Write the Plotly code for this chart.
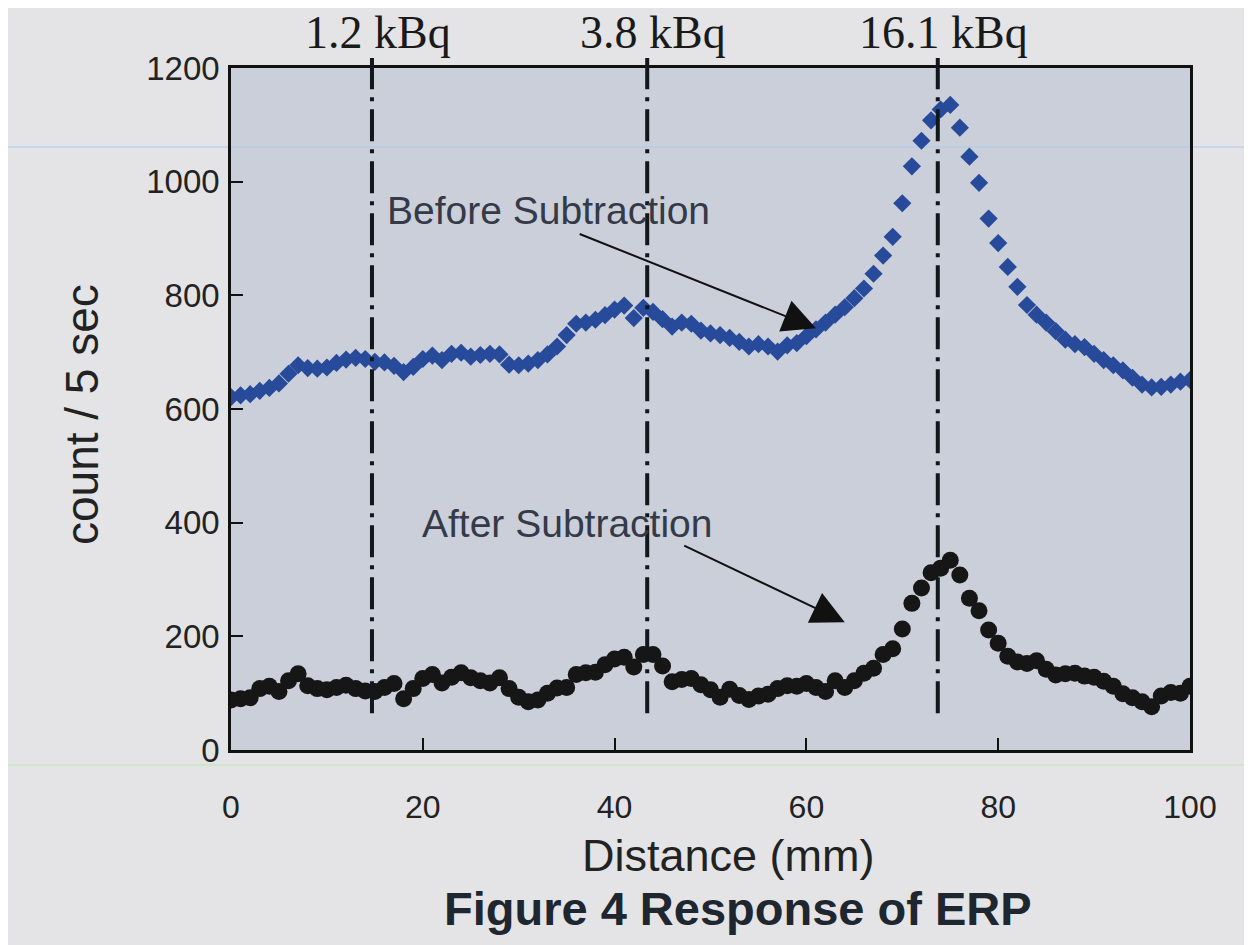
import plotly.graph_objects as go

# ---------------- data ----------------
distance_mm = list(range(0, 101))

before_subtraction = [
    621, 624, 626, 632, 637, 645, 662, 677, 672, 671,
    673, 681, 687, 690, 688, 683, 682, 676, 665, 674,
    688, 694, 686, 697, 699, 692, 695, 697, 696, 678,
    677, 680, 686, 696, 710, 730, 750, 752, 757, 765,
    775, 782, 760, 778, 771, 758, 745, 752, 750, 738,
    733, 730, 725, 718, 710, 714, 710, 701, 712, 716,
    728, 740, 752, 766, 779, 795, 812, 838, 870, 903,
    962, 1027, 1072, 1108, 1127, 1135, 1095, 1044, 998, 935,
    892, 850, 815, 783, 766, 752, 737, 722, 714, 709,
    697, 686, 677, 668, 655, 643, 638, 639, 643, 648,
    651,
]

after_subtraction = [
    88, 90, 92, 108, 112, 103, 122, 134, 113, 108,
    106, 110, 114, 108, 104, 103, 110, 117, 90, 108,
    126, 133, 118, 128, 136, 127, 122, 118, 127, 108,
    93, 85, 88, 100, 109, 110, 133, 136, 137, 150,
    160, 163, 146, 168, 168, 148, 120, 124, 126, 115,
    106, 93, 107, 96, 89, 95, 98, 108, 113, 112,
    117, 110, 103, 122, 110, 122, 135, 144, 168, 178,
    213, 258, 285, 312, 320, 334, 308, 267, 245, 211,
    188, 165, 155, 152, 157, 142, 132, 134, 135, 130,
    128, 121, 112, 99, 92, 85, 76, 95, 101, 100,
    112,
]

source_positions_mm = [14.7, 43.4, 73.7]
source_labels = ["1.2 kBq", "3.8 kBq", "16.1 kBq"]

x_ticks = [0, 20, 40, 60, 80, 100]
y_ticks = [0, 200, 400, 600, 800, 1000, 1200]

# arrow annotations: (text, text_x, text_y, tail_x, tail_y, tip_x, tip_y)
callouts = [
    ("Before Subtraction", 33.1, 950, 36.2, 909, 61.0, 742),
    ("After Subtraction", 35.0, 399, 47.1, 361, 64.0, 225),
]

# ---------------- figure ----------------
fig = go.Figure()

fig.add_trace(go.Scatter(
    x=distance_mm, y=before_subtraction, mode="markers",
    marker=dict(symbol="diamond", size=14, color="#274a9a", line=dict(width=0)),
    name="Before Subtraction", showlegend=False,
))
fig.add_trace(go.Scatter(
    x=distance_mm, y=after_subtraction, mode="markers",
    marker=dict(symbol="circle", size=17, color="#161616", line=dict(width=0)),
    name="After Subtraction", showlegend=False,
))

shapes = []
# faint scan artefact lines across the page
shapes.append(dict(type="line", xref="paper", yref="paper",
                   x0=-231 / 959, x1=1021 / 959, y0=0.884, y1=0.884,
                   line=dict(color="rgba(170,205,235,0.55)", width=2), layer="below"))
shapes.append(dict(type="line", xref="paper", yref="paper",
                   x0=-231 / 959, x1=1021 / 959, y0=-0.022, y1=-0.022,
                   line=dict(color="rgba(190,230,185,0.6)", width=2), layer="below"))

for xp in source_positions_mm:
    shapes.append(dict(type="line", xref="x", yref="paper",
                       x0=xp, x1=xp, y0=0.054, y1=1.0147,
                       line=dict(color="#10181c", width=4, dash="32px,8px,4px,8px")))

annotations = []
for xp, lab in zip(source_positions_mm, source_labels):
    annotations.append(dict(x=xp, y=1.052, xref="x", yref="paper", text=lab,
                            showarrow=False, xanchor="center", yanchor="middle",
                            xshift=6,
                            font=dict(family="Liberation Serif", size=46, color="#1a1a1a")))

for text, tx, ty, ax_, ay_, hx, hy in callouts:
    annotations.append(dict(x=tx, y=ty, xref="x", yref="y", text=text, showarrow=False,
                            font=dict(family="Liberation Sans", size=39, color="#343a48")))
    annotations.append(dict(x=hx, y=hy, ax=ax_, ay=ay_, xref="x", yref="y",
                            axref="x", ayref="y", text="", showarrow=True,
                            arrowhead=2, arrowsize=3.3, arrowwidth=2, arrowcolor="#111111"))

annotations.append(dict(x=0.5, y=0, xref="paper", yref="paper", text="Distance (mm)",
                        showarrow=False, xanchor="center", yanchor="middle",
                        xshift=18, yshift=-105,
                        font=dict(family="Liberation Sans", size=45, color="#222222")))
annotations.append(dict(x=0.5, y=0, xref="paper", yref="paper",
                        text="<b>Figure 4 Response of ERP</b>",
                        showarrow=False, xanchor="center", yanchor="middle",
                        xshift=27, yshift=-158,
                        font=dict(family="Liberation Sans", size=47, color="#1e2630")))
annotations.append(dict(x=0, y=0.5, xref="paper", yref="paper", text="count / 5 sec",
                        showarrow=False, xanchor="center", yanchor="middle", textangle=-90,
                        xshift=-149, yshift=-6,
                        font=dict(family="Liberation Sans", size=46, color="#222222")))

fig.update_layout(
    width=1244, height=937,
    margin=dict(l=223, r=62, t=60, b=195),
    paper_bgcolor="#e4e4e6",
    plot_bgcolor="#cbcfd9",
    shapes=shapes,
    annotations=annotations,
    showlegend=False,
)

fig.update_xaxes(
    range=[0, 100], tickvals=x_ticks, ticktext=[str(v) for v in x_ticks],
    showgrid=False, zeroline=False,
    showline=True, linecolor="#111111", linewidth=2.5, mirror=True,
    ticks="inside", ticklen=12, tickwidth=2, tickcolor="#111111",
    ticklabelstandoff=27,
    tickfont=dict(family="Liberation Sans", size=32, color="#222222"),
)
fig.update_yaxes(
    range=[0, 1200], tickvals=y_ticks, ticktext=[str(v) for v in y_ticks],
    showgrid=False, zeroline=False,
    showline=True, linecolor="#111111", linewidth=2.5, mirror=True,
    ticks="inside", ticklen=12, tickwidth=2, tickcolor="#111111",
    ticklabelstandoff=2,
    tickfont=dict(family="Liberation Sans", size=33, color="#222222"),
)

fig.write_html("out.html")
